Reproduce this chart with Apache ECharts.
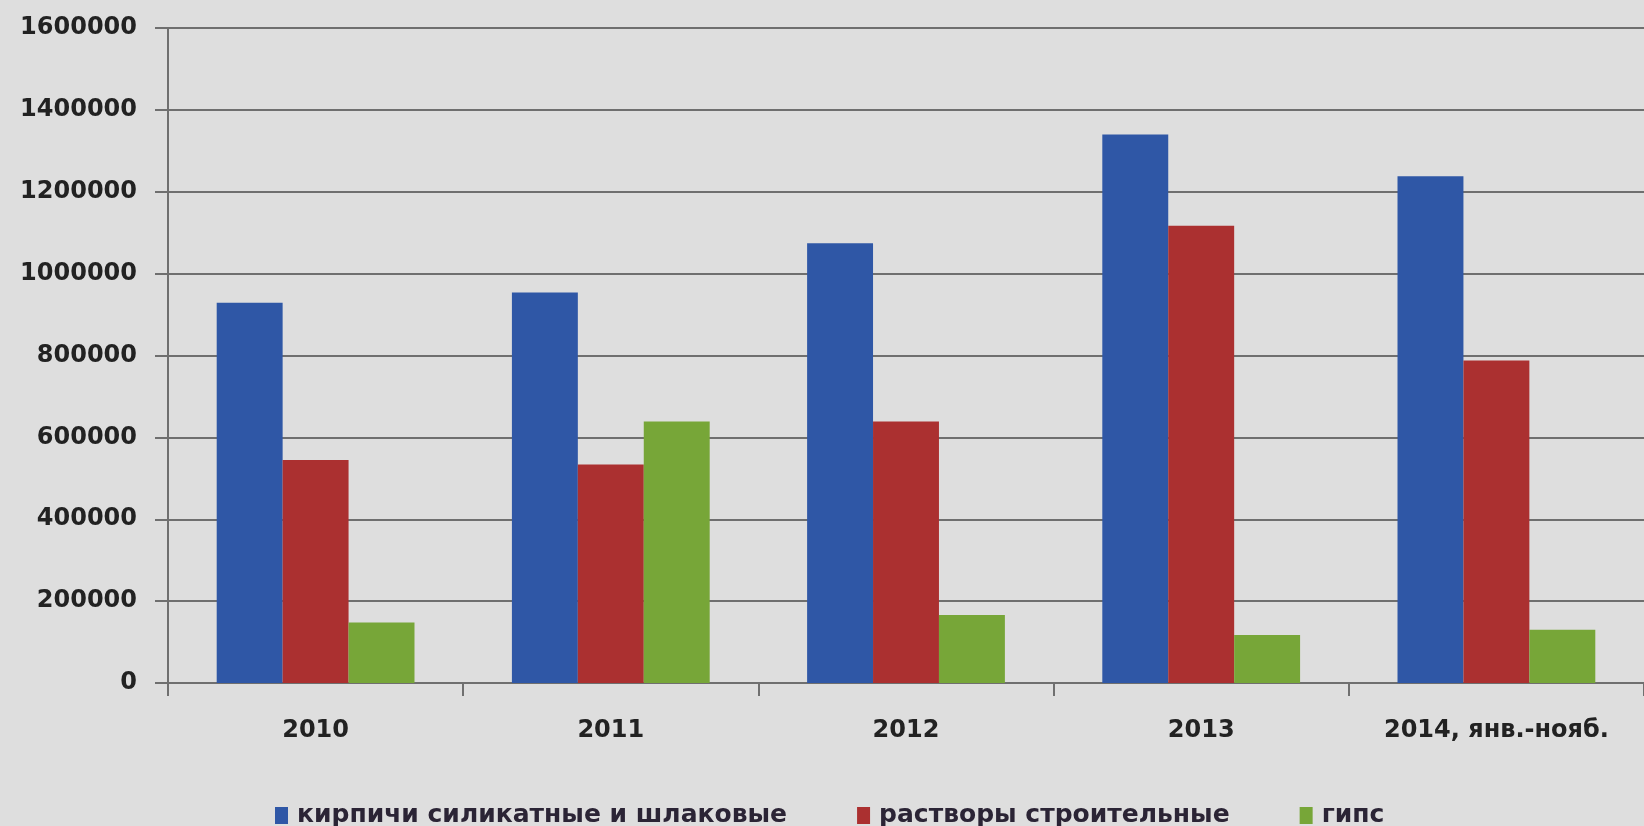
<!DOCTYPE html>
<html>
<head>
<meta charset="utf-8">
<script src="https://cdn.jsdelivr.net/npm/echarts@6/dist/echarts.min.js"></script>
<style>
html,body{margin:0;padding:0;background:#dedede;}
#chart{width:1644px;height:826px;}
</style>
</head>
<body>
<div id="chart"></div>
<script>
const categories = ['2010', '2011', '2012', '2013', '2014, янв.-нояб.'];
const seriesNames = ['кирпичи силикатные и шлаковые', 'растворы строительные', 'гипс'];
const bricks = [929000, 954000, 1074000, 1340000, 1238000];
const mortars = [545000, 534000, 639000, 1117000, 788000];
const gypsum = [148000, 639000, 166000, 117000, 130000];
const yTicks = [0, 200000, 400000, 600000, 800000, 1000000, 1200000, 1400000, 1600000];

const colors = ['#2f57a6', '#ab3030', '#77a638'];
const chart = echarts.init(document.getElementById('chart'));
const lineColor = '#6f6f6f';
const mk = (name, data, i) => ({
  name, type: 'bar', data, barGap: '0%', barCategoryGap: '33%',
  itemStyle: {color: colors[i]}
});
chart.setOption({
  backgroundColor: '#dedede',
  animation: false,
  grid: {left: 168, top: 28, width: 1480, height: 655},
  legend: {
    left: 270, top: 798, itemWidth: 13, itemHeight: 17, itemGap: 70,
    icon: 'rect',
    textStyle: {fontFamily: 'DejaVu Sans', fontWeight: 'bold', fontSize: 25, color: '#2b2435',
      padding: [0, 0, 0, 4]},
    data: seriesNames
  },
  xAxis: {
    type: 'category', data: categories,
    axisLine: {lineStyle: {color: lineColor, width: 2}},
    axisTick: {show: true, length: 13, lineStyle: {color: lineColor, width: 2}},
    axisLabel: {margin: 36, fontFamily: 'DejaVu Sans', fontWeight: 'bold', fontSize: 24, color: '#222'}
  },
  yAxis: {
    type: 'value', min: yTicks[0], max: yTicks[yTicks.length - 1], interval: yTicks[1] - yTicks[0],
    axisLine: {show: true, lineStyle: {color: lineColor, width: 2}},
    axisTick: {show: true, length: 13, lineStyle: {color: lineColor, width: 2}},
    splitLine: {lineStyle: {color: lineColor, width: 2}},
    axisLabel: {margin: 31, fontFamily: 'DejaVu Sans', fontWeight: 'bold', fontSize: 24, color: '#222',
      formatter: v => String(v)}
  },
  series: [mk(seriesNames[0], bricks, 0), mk(seriesNames[1], mortars, 1), mk(seriesNames[2], gypsum, 2)]
});
</script>
</body>
</html>
